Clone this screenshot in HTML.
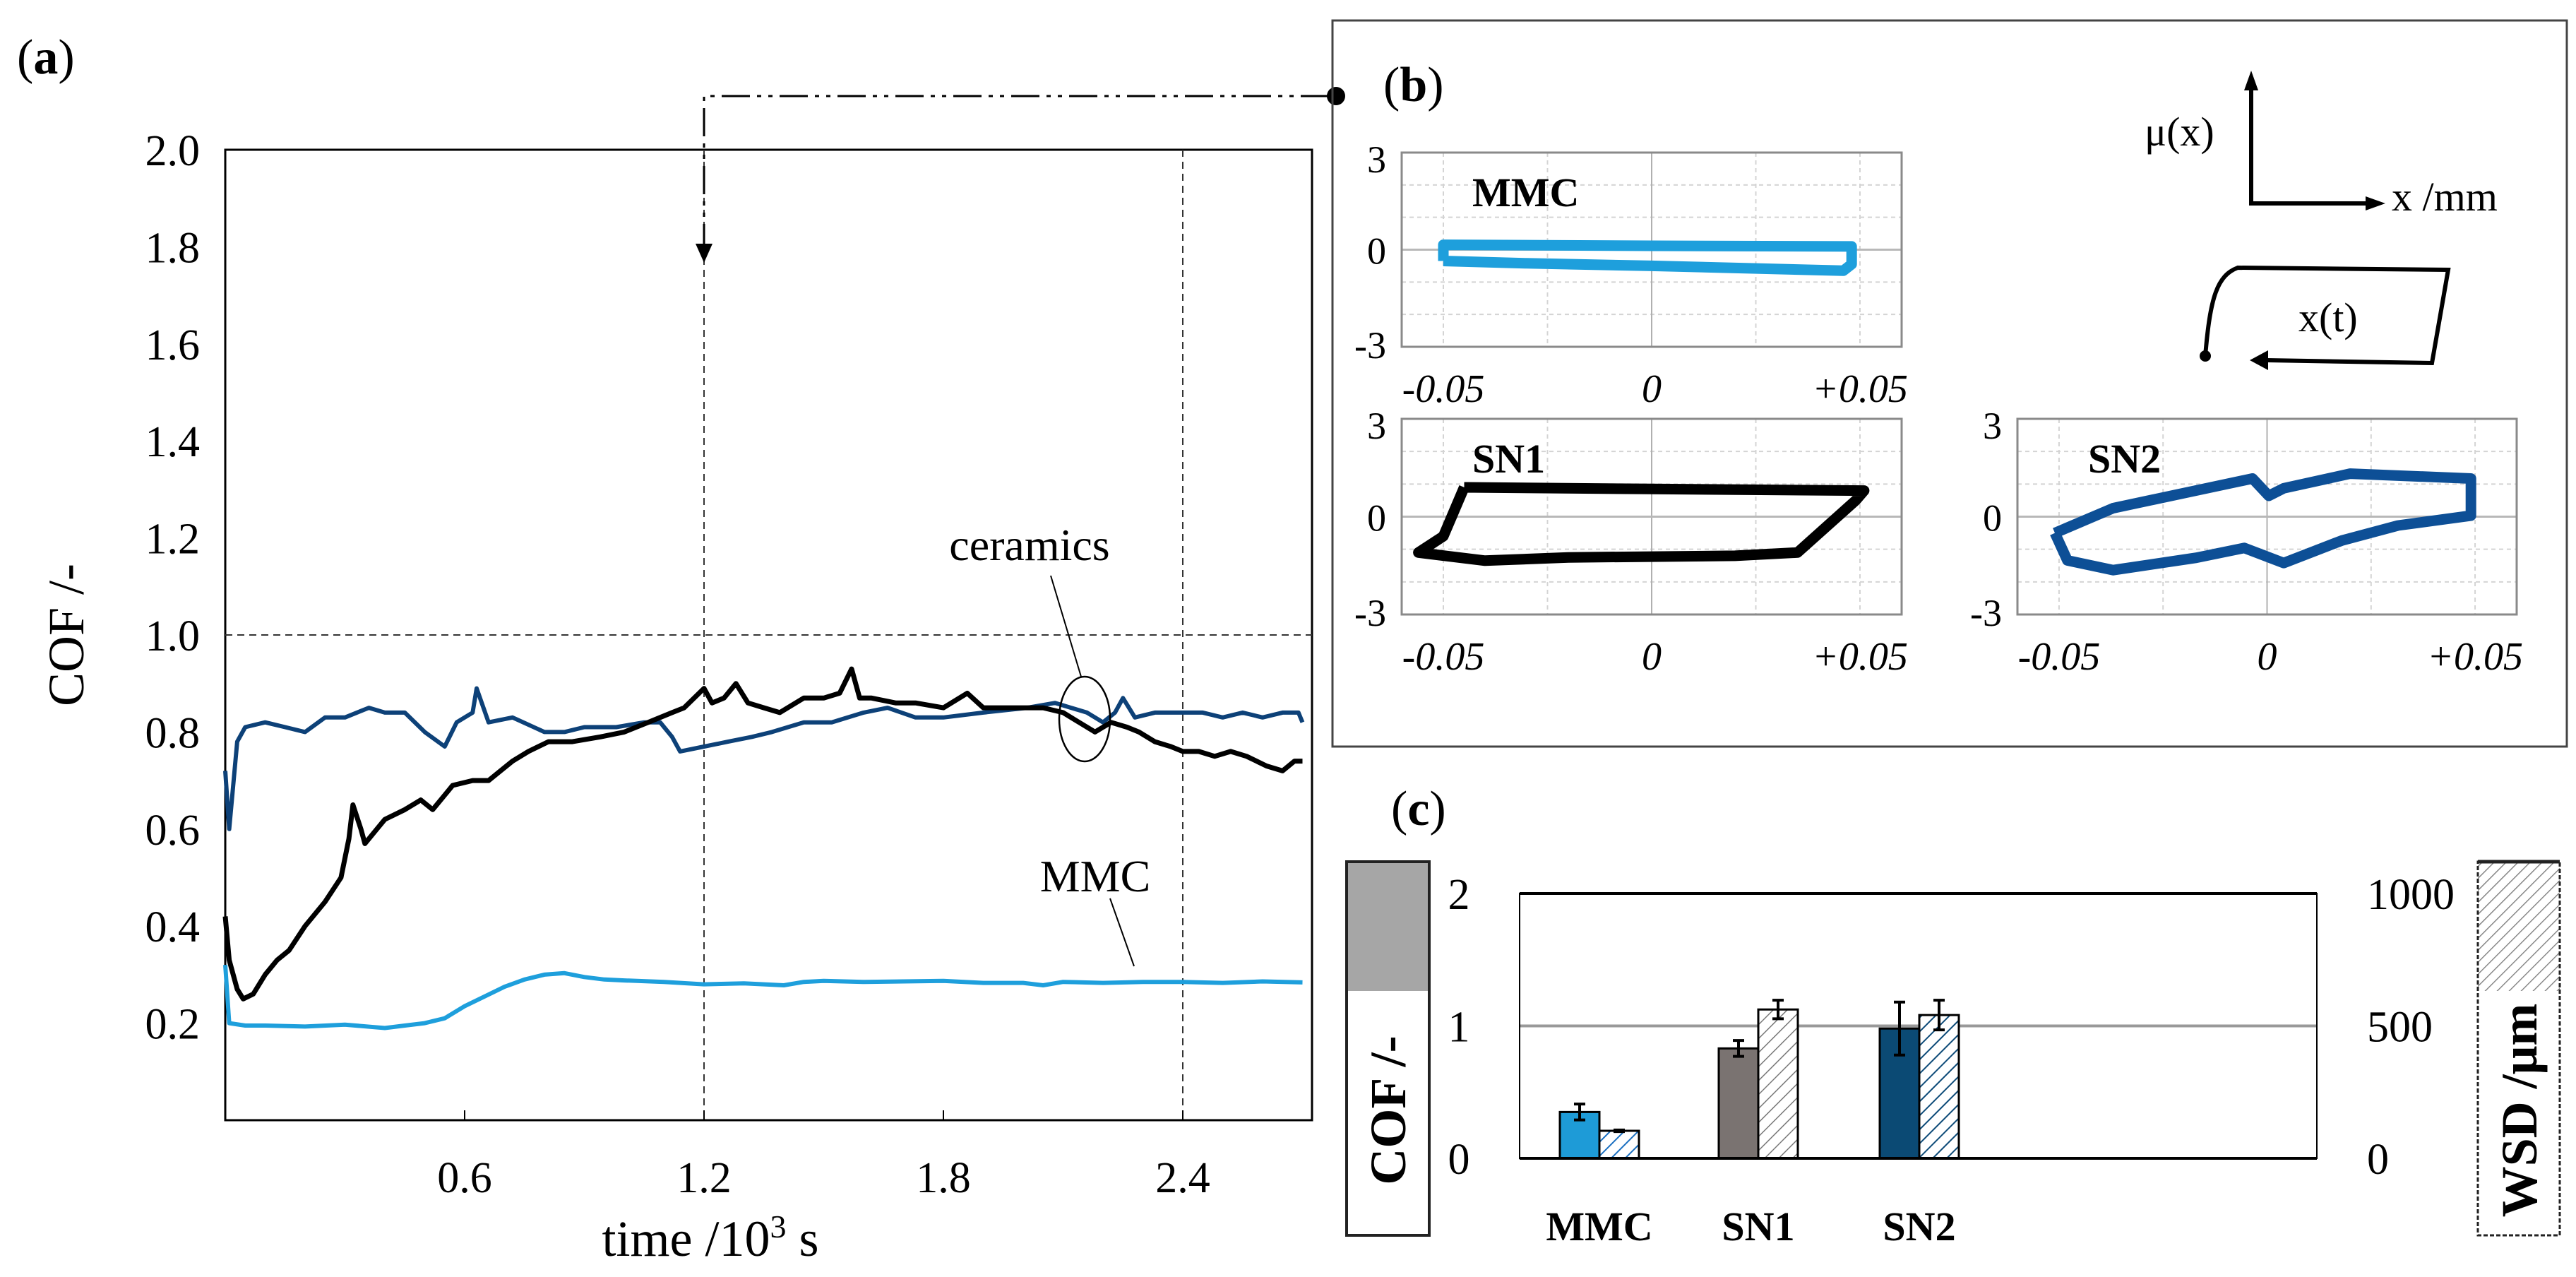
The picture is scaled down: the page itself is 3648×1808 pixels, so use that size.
<!DOCTYPE html>
<html><head><meta charset="utf-8">
<style>
html,body{margin:0;padding:0;background:#fff;}
svg{display:block;font-family:"Liberation Serif",serif;}
</style></head>
<body>
<svg id="fig" width="3648" height="1808" viewBox="0 0 3648 1808" xmlns="http://www.w3.org/2000/svg">
<defs>
<pattern id="hatchBlue" patternUnits="userSpaceOnUse" width="14" height="14" patternTransform="rotate(45)">
<rect width="14" height="14" fill="#fff"/><line x1="0" y1="0" x2="0" y2="14" stroke="#1a6fc0" stroke-width="4"/></pattern>
<pattern id="hatchGray" patternUnits="userSpaceOnUse" width="14" height="14" patternTransform="rotate(45)">
<rect width="14" height="14" fill="#fff"/><line x1="0" y1="0" x2="0" y2="14" stroke="#777" stroke-width="3"/></pattern>
<pattern id="hatchNavy" patternUnits="userSpaceOnUse" width="14" height="14" patternTransform="rotate(45)">
<rect width="14" height="14" fill="#fff"/><line x1="0" y1="0" x2="0" y2="14" stroke="#0c4a78" stroke-width="4"/></pattern>
<pattern id="hatchLegend" patternUnits="userSpaceOnUse" width="12" height="12" patternTransform="rotate(45)">
<rect width="12" height="12" fill="#fff"/><line x1="0" y1="0" x2="0" y2="12" stroke="#888" stroke-width="3"/></pattern>
</defs>

<text x="24" y="104" font-size="70">(<tspan font-weight="bold">a</tspan>)</text>
<rect x="319" y="212" width="1539" height="1374" fill="none" stroke="#000" stroke-width="3"/>
<g id="gA"></g>
<text transform="translate(118,899) rotate(-90)" text-anchor="middle" font-size="72">COF /-</text>
<text x="1006" y="1778" text-anchor="middle" font-size="72">time /10<tspan font-size="46" dy="-26">3</tspan><tspan dy="26"> s</tspan></text>
<text x="1458" y="793" text-anchor="middle" font-size="64">ceramics</text>
<line x1="1488" y1="815" x2="1531" y2="958" stroke="#000" stroke-width="2"/>
<ellipse cx="1536" cy="1018" rx="36" ry="60" fill="none" stroke="#000" stroke-width="2.5"/>
<text x="1551" y="1262" text-anchor="middle" font-size="64">MMC</text>
<line x1="1572" y1="1272" x2="1606" y2="1368" stroke="#000" stroke-width="2"/>
<polyline points="997,357 997,136 1885,136" fill="none" stroke="#000" stroke-width="3" stroke-dasharray="40,10,6,10,6,10"/>
<polygon points="985,345 1009,345 997,372" fill="#000"/>
<circle cx="1892" cy="136" r="13" fill="#000"/>

<rect x="1887" y="29" width="1748" height="1028" fill="none" stroke="#444" stroke-width="3"/>
<text x="1959" y="143" font-size="70">(<tspan font-weight="bold">b</tspan>)</text>
<g id="gB"></g>
<g>
<polyline points="3188,126 3188,288 3352,288" fill="none" stroke="#000" stroke-width="6"/>
<polygon points="3178,128 3198,128 3188,100" fill="#000"/>
<polygon points="3350,278 3350,298 3378,288" fill="#000"/>
<text x="3037" y="206" font-size="58">μ(x)</text>
<text x="3387" y="298" font-size="58">x /mm</text>
<path d="M3123,504 C3130,420 3140,390 3169,379 L3467,382 L3444,514 L3210,510" fill="none" stroke="#000" stroke-width="6"/>
<polygon points="3212,496 3212,524 3186,510" fill="#000"/>
<circle cx="3123" cy="504" r="8" fill="#000"/>
<text x="3255" y="469" font-size="58">x(t)</text>
</g>

<text x="1970" y="1168" font-size="70">(<tspan font-weight="bold">c</tspan>)</text>
<g>
<rect x="1907" y="1220" width="117" height="183" fill="#a6a6a6"/>
<rect x="1907" y="1220" width="117" height="529" fill="none" stroke="#222" stroke-width="4"/>
<text transform="translate(1990,1572) rotate(-90)" text-anchor="middle" font-size="72" font-weight="bold">COF /-</text>
</g>
<g>
<rect x="3509" y="1220" width="116" height="183" fill="url(#hatchLegend)"/>
<rect x="3509" y="1220" width="116" height="529" fill="none" stroke="#222" stroke-width="3" stroke-dasharray="6,3"/>
<line x1="3509" y1="1220" x2="3625" y2="1220" stroke="#222" stroke-width="5"/>
<text transform="translate(3592,1572) rotate(-90)" text-anchor="middle" font-size="72" font-weight="bold">WSD /μm</text>
</g>
<g id="gC"></g>
</svg>

<script>
const mmcT = [0,0.01,0.05,0.1,0.2,0.3,0.4,0.45,0.5,0.55,0.6,0.65,0.7,0.75,0.8,0.85,0.9,0.95,1.0,1.1,1.2,1.3,1.4,1.45,1.5,1.6,1.7,1.8,1.9,2.0,2.05,2.1,2.2,2.3,2.4,2.5,2.6,2.7];
const mmcV = [0.32,0.20,0.195,0.195,0.193,0.197,0.19,0.195,0.20,0.21,0.235,0.255,0.275,0.29,0.30,0.303,0.295,0.29,0.288,0.285,0.28,0.282,0.278,0.285,0.287,0.285,0.286,0.287,0.283,0.283,0.278,0.285,0.283,0.285,0.285,0.283,0.286,0.284];
const sn2T = [0,0.01,0.03,0.05,0.1,0.15,0.2,0.25,0.3,0.36,0.4,0.45,0.5,0.55,0.58,0.62,0.63,0.66,0.72,0.8,0.85,0.9,0.98,1.05,1.09,1.12,1.14,1.2,1.26,1.32,1.37,1.45,1.52,1.6,1.66,1.73,1.8,1.9,2.01,2.08,2.12,2.16,2.2,2.23,2.25,2.28,2.33,2.4,2.45,2.5,2.55,2.6,2.65,2.69,2.7];
const sn2V = [0.72,0.6,0.78,0.81,0.82,0.81,0.80,0.83,0.83,0.85,0.84,0.84,0.80,0.77,0.82,0.84,0.89,0.82,0.83,0.80,0.80,0.81,0.81,0.82,0.82,0.79,0.76,0.77,0.78,0.79,0.80,0.82,0.82,0.84,0.85,0.83,0.83,0.84,0.85,0.86,0.85,0.84,0.82,0.84,0.87,0.83,0.84,0.84,0.84,0.83,0.84,0.83,0.84,0.84,0.82];
const sn1T = [0,0.01,0.03,0.045,0.07,0.1,0.13,0.16,0.2,0.25,0.29,0.31,0.32,0.34,0.35,0.38,0.4,0.45,0.49,0.52,0.55,0.57,0.62,0.66,0.69,0.72,0.76,0.81,0.87,0.94,1.0,1.06,1.12,1.15,1.2,1.22,1.25,1.28,1.31,1.35,1.39,1.45,1.5,1.54,1.57,1.59,1.62,1.68,1.73,1.8,1.86,1.9,1.94,2.0,2.05,2.1,2.14,2.18,2.22,2.26,2.29,2.33,2.37,2.4,2.44,2.48,2.52,2.56,2.61,2.65,2.68,2.7];
const sn1V = [0.42,0.33,0.27,0.25,0.26,0.30,0.33,0.35,0.40,0.45,0.50,0.58,0.65,0.60,0.57,0.60,0.62,0.64,0.66,0.64,0.67,0.69,0.70,0.70,0.72,0.74,0.76,0.78,0.78,0.79,0.80,0.82,0.84,0.85,0.89,0.86,0.87,0.90,0.86,0.85,0.84,0.87,0.87,0.88,0.93,0.87,0.87,0.86,0.86,0.85,0.88,0.85,0.85,0.85,0.85,0.84,0.82,0.80,0.82,0.81,0.80,0.78,0.77,0.76,0.76,0.75,0.76,0.75,0.73,0.72,0.74,0.74];
const aXTicks = [0.6,1.2,1.8,2.4];
const aXTickLabels = ["0.6","1.2","1.8","2.4"];
const aYTicks = [0.2,0.4,0.6,0.8,1.0,1.2,1.4,1.6,1.8,2.0];
const aYTickLabels = ["0.2","0.4","0.6","0.8","1.0","1.2","1.4","1.6","1.8","2.0"];

const loopMMCx = [-0.05,-0.05,0.0,0.048,0.048,0.046,0.0,-0.03,-0.05];
const loopMMCy = [-0.35,0.15,0.12,0.1,-0.45,-0.65,-0.5,-0.42,-0.35];
const loopSN1x = [-0.045,0.0,0.051,0.049,0.035,0.02,-0.02,-0.04,-0.056,-0.05,-0.045];
const loopSN1y = [0.9,0.85,0.8,0.5,-1.1,-1.2,-1.25,-1.35,-1.1,-0.6,0.9];
const loopSN2x = [-0.051,-0.037,-0.0035,0.0004,0.004,0.02,0.049,0.049,0.0315,0.018,0.004,-0.0055,-0.017,-0.037,-0.048,-0.051];
const loopSN2y = [-0.5,0.26,1.17,0.64,0.87,1.32,1.17,0.03,-0.27,-0.73,-1.42,-0.96,-1.26,-1.64,-1.34,-0.5];
const bXTickLabels = ["-0.05","0","+0.05"];
const bXTicks = [-0.05,0,0.05];
const bYTicks = [3,0,-3];

const cCategories = ["MMC","SN1","SN2"];
const cofValues = [0.35,0.83,0.98];
const cofErrors = [0.06,0.06,0.2];
const wsdValues = [104,562,541];
const wsdErrors = [3,35,56];
const cLeftTicks = [0,1,2];
const cRightTicks = [0,500,1000];

const NS="http://www.w3.org/2000/svg";
function mk(tag, attrs, parent){const e=document.createElementNS(NS,tag);for(const k in attrs)e.setAttribute(k,attrs[k]);parent.appendChild(e);return e;}

const gA=document.getElementById('gA');
const xA=t=>319+t/0.6*339;
const yA=v=>1586-v*687;
let e=mk('line',{x1:319,y1:yA(1.0),x2:1858,y2:yA(1.0),stroke:'#333','stroke-width':2,'stroke-dasharray':'10,7'},gA);


[1.2,2.4].forEach(t=>{
 const l=mk('line',{x1:xA(t),y1:212,x2:xA(t),y2:1586,stroke:'#333','stroke-width':2,'stroke-dasharray':'10,7'},gA);
 
 
});
aXTicks.forEach((t,i)=>{
 const tk=mk('line',{x1:xA(t),y1:1586,x2:xA(t),y2:1572,stroke:'#000','stroke-width':2},gA);
 
 
 const tx=mk('text',{x:xA(t),y:1688,'text-anchor':'middle','font-size':62},gA);
 tx.textContent=aXTickLabels[i];
 
 
});
aYTicks.forEach((v,i)=>{
 const tx=mk('text',{x:283,y:yA(v)+22,'text-anchor':'end','font-size':62},gA);
 tx.textContent=aYTickLabels[i];
 
 
});
function seriesA(T,V,color,w,name){
 const p=mk('polyline',{points:T.map((t,i)=>xA(t).toFixed(1)+','+yA(V[i]).toFixed(1)).join(' '),fill:'none',stroke:color,'stroke-width':w,'stroke-linejoin':'round'},gA);
 
 
}
seriesA(mmcT,mmcV,'#1e9fdc',6,'mmc-series');
seriesA(sn2T,sn2V,'#0d4178',6,'sn2-series');
seriesA(sn1T,sn1V,'#000',7,'sn1-series');

const gB=document.getElementById('gB');
function loopPanel(x0,y0,w,h,lx,ly,color,name,label){
 const xs=v=>x0+w/2+v/0.06*(w/2);
 const ys=v=>y0+h/2-v/3*(h/2);
 const g=mk('g',{},gB);
 
 
 [-0.05,-0.025,0.025,0.05].forEach(v=>mk('line',{x1:xs(v),y1:y0,x2:xs(v),y2:y0+h,stroke:'#d4d4d4','stroke-width':2,'stroke-dasharray':'6,5'},g));
 [-2,-1,1,2].forEach(v=>mk('line',{x1:x0,y1:ys(v),x2:x0+w,y2:ys(v),stroke:'#d4d4d4','stroke-width':2,'stroke-dasharray':'6,5'},g));
 mk('line',{x1:xs(0),y1:y0,x2:xs(0),y2:y0+h,stroke:'#b0b0b0','stroke-width':2},g);
 mk('line',{x1:x0,y1:ys(0),x2:x0+w,y2:ys(0),stroke:'#b8b8b8','stroke-width':3},g);
 mk('rect',{x:x0,y:y0,width:w,height:h,fill:'none',stroke:'#8a8a8a','stroke-width':3},g);
 bYTicks.forEach(v=>{
  const t=mk('text',{x:x0-22,y:ys(v)+20+(v===3?8:0)-(v===-3?4:0),'text-anchor':'end','font-size':54},g);
  t.textContent=String(v);
  
  
 });
 bXTicks.forEach((v,i)=>{
  const t=mk('text',{x:xs(v),y:y0+h+78,'text-anchor':'middle','font-size':56,'font-style':'italic'},g);
  t.textContent=bXTickLabels[i];
  
  
 });
 const lb=mk('text',{x:x0+100,y:y0+76,'font-size':58,'font-weight':'bold'},g);
 lb.textContent=label;
 
 
 const p=mk('polyline',{points:lx.map((v,i)=>xs(v).toFixed(1)+','+ys(ly[i]).toFixed(1)).join(' '),fill:'none',stroke:color,'stroke-width':15,'stroke-linejoin':'round'},g);
 
 
}
loopPanel(1985,216,708,275,loopMMCx,loopMMCy,'#1e9fdc','mmc','MMC');
loopPanel(1985,593,708,277,loopSN1x,loopSN1y,'#000','sn1','SN1');
loopPanel(2857,593,707,277,loopSN2x,loopSN2y,'#0d4f96','sn2','SN2');

const gC=document.getElementById('gC');
const yC=v=>1640-v*187.5;
const yW=v=>1640-v/500*187.5;
const catX=[2265,2490,2718];
const bw=56;
mk('line',{x1:2152,y1:yC(1),x2:3281,y2:yC(1),stroke:'#999','stroke-width':4},gC);
mk('rect',{x:2152,y:1265,width:1129,height:375,fill:'none',stroke:'#000','stroke-width':2},gC);
mk('line',{x1:2152,y1:1265,x2:3281,y2:1265,stroke:'#000','stroke-width':4},gC);
const cofFill=['#1e9bd7','#7a7371','#0b4a74'];
const wsdFill=['url(#hatchBlue)','url(#hatchGray)','url(#hatchNavy)'];
cCategories.forEach((c,i)=>{
 const cx=catX[i];
 const b1=mk('rect',{x:cx-bw,y:yC(cofValues[i]),width:bw,height:yC(0)-yC(cofValues[i]),fill:cofFill[i],stroke:'#000','stroke-width':3},gC);
 
 
 const b2=mk('rect',{x:cx,y:yW(wsdValues[i]),width:bw,height:yW(0)-yW(wsdValues[i]),fill:wsdFill[i],stroke:'#000','stroke-width':3},gC);
 
 
 const ex1=cx-bw/2, ex2=cx+bw/2;
 const e1=mk('path',{d:`M${ex1},${yC(cofValues[i]+cofErrors[i])} V${yC(cofValues[i]-cofErrors[i])} M${ex1-8},${yC(cofValues[i]+cofErrors[i])} h16 M${ex1-8},${yC(cofValues[i]-cofErrors[i])} h16`,stroke:'#000','stroke-width':4,fill:'none'},gC);
 
 
 const e2=mk('path',{d:`M${ex2},${yW(wsdValues[i]+wsdErrors[i])} V${yW(wsdValues[i]-wsdErrors[i])} M${ex2-8},${yW(wsdValues[i]+wsdErrors[i])} h16 M${ex2-8},${yW(wsdValues[i]-wsdErrors[i])} h16`,stroke:'#000','stroke-width':4,fill:'none'},gC);
 
 
 const t=mk('text',{x:cx,y:1756,'text-anchor':'middle','font-size':58,'font-weight':'bold'},gC);
 t.textContent=c;
 
 
});
mk('line',{x1:2152,y1:1640,x2:3281,y2:1640,stroke:'#000','stroke-width':4},gC);
cLeftTicks.forEach(v=>{
 const t=mk('text',{x:2066,y:yC(v)+22,'text-anchor':'middle','font-size':62},gC);
 t.textContent=String(v);
 
 
});
cRightTicks.forEach(v=>{
 const t=mk('text',{x:3352,y:yW(v)+22,'text-anchor':'start','font-size':62},gC);
 t.textContent=String(v);
 
 
});
</script>
</body></html>
